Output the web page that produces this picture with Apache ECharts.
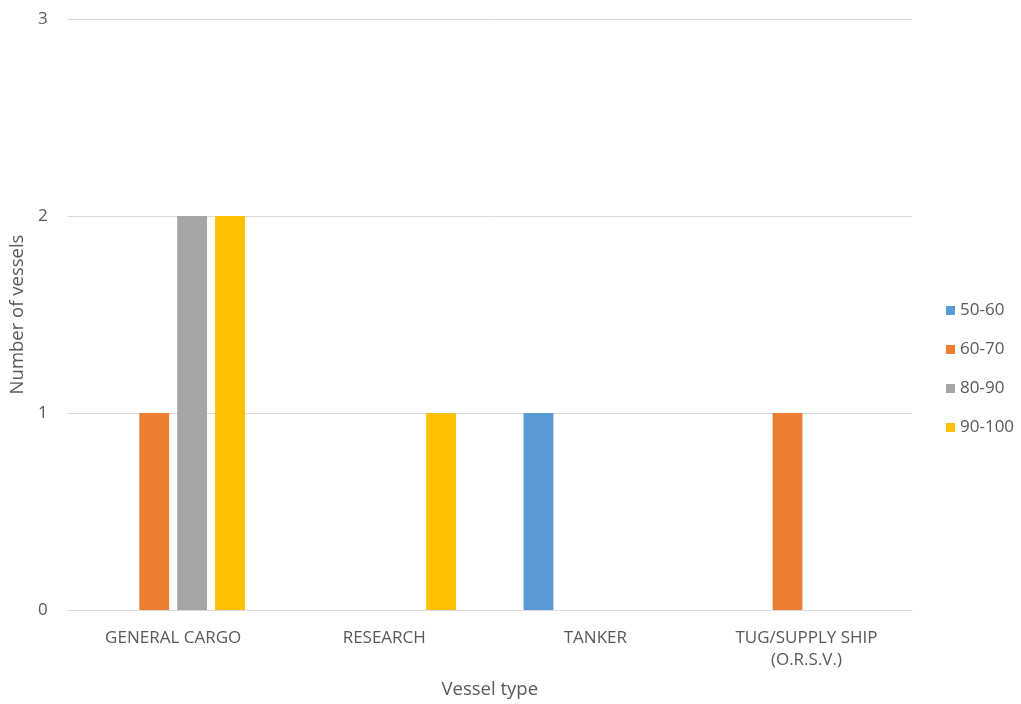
<!DOCTYPE html>
<html><head><meta charset="utf-8">
<script src="https://cdn.jsdelivr.net/npm/echarts@6/dist/echarts.min.js"></script>
<style>html,body{margin:0;padding:0;background:#fff}#c{width:1021px;height:704px}</style>
</head><body><div id="c"></div>
<script>
const categories = ['GENERAL CARGO', 'RESEARCH', 'TANKER', 'TUG/SUPPLY SHIP\n(O.R.S.V.)'];
const seriesNames = ['50-60', '60-70', '80-90', '90-100'];
const v5060 = [0, 0, 1, 0];
const v6070 = [1, 0, 0, 1];
const v8090 = [2, 0, 0, 0];
const v90100 = [2, 1, 0, 0];
const yTicks = [0, 1, 2, 3];
const colors = ['#5B9BD5', '#ED7D31', '#A5A5A5', '#FFC000'];
const values = [v5060, v6070, v8090, v90100];
const font = '"Open Sans", "Liberation Sans", sans-serif';
const chart = echarts.init(document.getElementById('c'));
chart.setOption({
  animation: false,
  textStyle: {fontFamily: font, color: '#595959'},
  grid: {left: 67, right: 109, top: 19, bottom: 91, containLabel: false},
  legend: {
    orient: 'vertical', left: 941, top: 297, itemWidth: 9, itemHeight: 9, itemGap: 22,
    icon: 'rect',
    textStyle: {fontSize: 17, color: '#595959', fontFamily: font},
    data: seriesNames
  },
  xAxis: {
    type: 'category', data: categories,
    name: 'Vessel type', nameLocation: 'middle', nameGap: 70,
    nameTextStyle: {fontSize: 18.5, color: '#595959'},
    axisLine: {lineStyle: {color: '#D9D9D9', width: 1}},
    axisTick: {show: false},
    axisLabel: {fontSize: 17, color: '#595959', margin: 17, lineHeight: 22, interval: 0}
  },
  yAxis: {
    type: 'value', min: yTicks[0], max: yTicks[yTicks.length-1], interval: 1,
    name: 'Number of vessels', nameLocation: 'middle', nameGap: 36,
    nameTextStyle: {fontSize: 18.5, color: '#595959'},
    axisLine: {show: false}, axisTick: {show: false},
    axisLabel: {fontSize: 17, color: '#595959', margin: 20},
    splitLine: {lineStyle: {color: '#D9D9D9', width: 1}}
  },
  series: seriesNames.map((n, i) => ({
    name: n, type: 'bar', data: values[i],
    itemStyle: {color: colors[i]},
    barGap: '27%', barCategoryGap: '32%'
  }))
});
</script></body></html>
